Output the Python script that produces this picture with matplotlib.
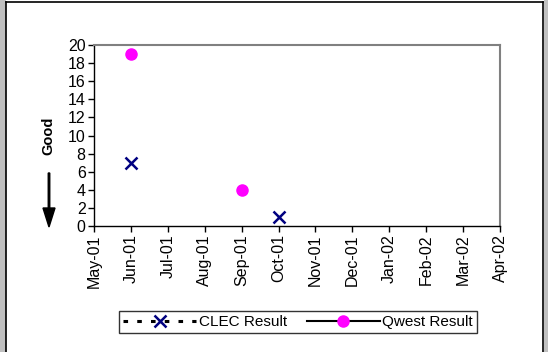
import matplotlib
matplotlib.use("Agg")
import matplotlib.pyplot as plt
import numpy as np
from matplotlib.patches import Rectangle, FancyArrow
from matplotlib.lines import Line2D

plt.rcParams['font.family'] = ['Liberation Sans', 'DejaVu Sans']

months = ["May-01", "Jun-01", "Jul-01", "Aug-01", "Sep-01", "Oct-01",
          "Nov-01", "Dec-01", "Jan-02", "Feb-02", "Mar-02", "Apr-02"]
clec_months = ["Jun-01", "Oct-01"]
clec_values = [7, 1]
qwest_months = ["Jun-01", "Sep-01"]
qwest_values = [19, 4]
y_ticks = list(range(0, 21, 2))

W, H = 548, 352
fig = plt.figure(figsize=(W / 100, H / 100), dpi=100)
fig.patch.set_facecolor('white')

# outer frame decorations
fig.patches.append(Rectangle((0, 0), 5.5 / W, 1, transform=fig.transFigure,
                             facecolor='#c0c0c0', edgecolor='none', zorder=0))
fig.patches.append(Rectangle((543.5 / W, 0), 5 / W, 1, transform=fig.transFigure,
                             facecolor='#c0c0c0', edgecolor='none', zorder=0))
fig.lines.append(Line2D([6 / W, 6 / W], [0, 1 - 2 / H], transform=fig.transFigure,
                        color='black', lw=1.2))
fig.lines.append(Line2D([543 / W, 543 / W], [0, 1 - 2 / H], transform=fig.transFigure,
                        color='black', lw=1.2))
fig.lines.append(Line2D([6 / W, 543 / W], [1 - 2 / H, 1 - 2 / H], transform=fig.transFigure,
                        color='black', lw=1.2))

left, right, top, bottom = 94, 500, 45, 226
ax = fig.add_axes([left / W, 1 - bottom / H, (right - left) / W, (bottom - top) / H])
ax.set_facecolor('white')

x_idx = {m: i for i, m in enumerate(months)}
cx = [x_idx[m] for m in clec_months]
qx = [x_idx[m] for m in qwest_months]

ax.plot(cx, clec_values, linestyle='none', marker='x', color='#000080',
        markersize=8, markeredgewidth=1.8, clip_on=False)
ax.plot(qx, qwest_values, linestyle='none', marker='o', color='#ff00ff',
        markersize=8, clip_on=False)

ax.set_xlim(0, len(months) - 1)
ax.set_ylim(0, 20)
ax.set_xticks(range(len(months)))
ax.set_xticklabels(months, rotation=90, fontsize=11.5)
ax.set_yticks(y_ticks)
ax.set_yticklabels([str(v) for v in y_ticks], fontsize=11.5)
ax.tick_params(axis='both', direction='out', length=4, width=1, color='black', pad=2)

for s in ['top', 'right']:
    ax.spines[s].set_color('#808080')
    ax.spines[s].set_linewidth(1.5)
for s in ['left', 'bottom']:
    ax.spines[s].set_color('black')
    ax.spines[s].set_linewidth(1)

# "Good" label with arrow
fig.text(48 / W, 1 - 135.5 / H, "Good", rotation=90, fontsize=10.5, fontweight='bold',
         ha='center', va='center')
fig.patches.append(FancyArrow(
    49 / W, 1 - 173 / H, 0, -(54 / H), width=1.5 / W, head_width=12 / W,
    head_length=19 / H, length_includes_head=True, transform=fig.transFigure,
    color='black'))

# legend
h1 = Line2D([], [], linestyle=(0, (1.5, 3)), color='black', lw=2.2, marker='x',
            markersize=8, markeredgewidth=1.8, markeredgecolor='#000080')
h2 = Line2D([], [], linestyle='-', color='black', lw=1.5, marker='o',
            markersize=8, markerfacecolor='#ff00ff', markeredgecolor='#ff00ff')
leg = fig.legend([h1, h2], ["CLEC Result", "Qwest Result"], loc='center',
                 bbox_to_anchor=(298 / W, 1 - 322 / H), ncol=2, fontsize=11,
                 frameon=True, fancybox=False, handlelength=4.8, handletextpad=0.15,
                 columnspacing=1.3, borderpad=0.25, borderaxespad=0,
                 edgecolor='black')
leg.get_frame().set_linewidth(1)

fig.savefig("out.png", dpi=100, facecolor='white')
